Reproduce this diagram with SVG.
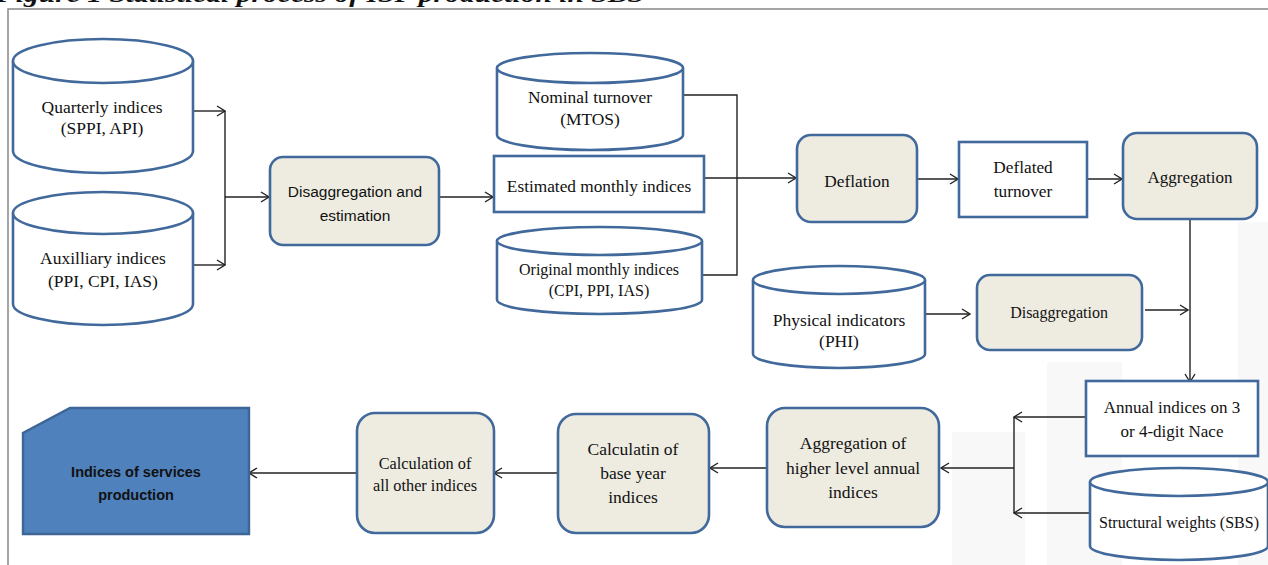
<svg xmlns="http://www.w3.org/2000/svg" width="1268" height="565" viewBox="0 0 1268 565">
<style>
.node{stroke:#41699b;stroke-width:2.6;}
.proc{fill:#eeece1;}
.data{fill:#ffffff;}
.serif{font-family:"Liberation Serif","Times New Roman",serif;fill:#111;text-anchor:middle;}
.sans{font-family:"Liberation Sans",Arial,sans-serif;fill:#111;text-anchor:middle;}
.conn{stroke:#222;stroke-width:1.4;fill:none;}
.wm{fill:#f8f8f8;}
</style>
<defs>
<marker id="arr" markerUnits="userSpaceOnUse" markerWidth="12" markerHeight="12" refX="9" refY="6" orient="auto">
<path d="M1,1 L9,6 L1,11" fill="none" stroke="#222" stroke-width="1.4"/>
</marker>
</defs>
<rect width="1268" height="565" fill="#ffffff"/>
<text x="-4" y="2" font-family="Liberation Serif,serif" font-style="italic" font-weight="bold" font-size="24" textLength="648" lengthAdjust="spacingAndGlyphs" fill="#111">Figure 1 Statistical process of ISP production in SBS</text>
<g id="watermark">
<rect class="wm" x="1238" y="222" width="30" height="343"/>
<rect class="wm" x="1047" y="362" width="75" height="203"/>
<rect class="wm" x="952" y="432" width="73" height="133"/>
</g>
<path d="M8,565 V9 H1268" fill="none" stroke="#888" stroke-width="1.5"/>

<g id="connectors">
<path class="conn" d="M193,111 H225" marker-end="url(#arr)"/>
<path class="conn" d="M193,265 H225" marker-end="url(#arr)"/>
<path class="conn" d="M225,111 V265"/>
<path class="conn" d="M225,197 H269" marker-end="url(#arr)"/>
<path class="conn" d="M439,197 H493" marker-end="url(#arr)"/>
<path class="conn" d="M683,95 H737 V275 H702"/>
<path class="conn" d="M704,178 H796" marker-end="url(#arr)"/>
<path class="conn" d="M917,179 H958" marker-end="url(#arr)"/>
<path class="conn" d="M1087,179 H1122" marker-end="url(#arr)"/>
<path class="conn" d="M1190,219 V382" marker-end="url(#arr)"/>
<path class="conn" d="M925,314 H970" marker-end="url(#arr)"/>
<path class="conn" d="M1145,310 H1188" marker-end="url(#arr)"/>
<path class="conn" d="M1086,417 H1014" marker-end="url(#arr)"/>
<path class="conn" d="M1090,513 H1014" marker-end="url(#arr)"/>
<path class="conn" d="M1014,417 V513"/>
<path class="conn" d="M1014,468 H941" marker-end="url(#arr)"/>
<path class="conn" d="M767,468 H710" marker-end="url(#arr)"/>
<path class="conn" d="M558,473 H494" marker-end="url(#arr)"/>
<path class="conn" d="M357,473 H249" marker-end="url(#arr)"/>
</g>

<g id="quarterly">
<path class="node data" d="M13,61 V151 A90,22 0 0 0 193,151 V61"/>
<ellipse class="node data" cx="103" cy="61" rx="90" ry="22"/>
<text class="serif" x="102" y="113" font-size="17.5">Quarterly indices</text>
<text class="serif" x="102" y="134" font-size="17.5">(SPPI, API)</text>
</g>
<g id="auxiliary">
<path class="node data" d="M13,213 V304 A90,21 0 0 0 193,304 V213"/>
<ellipse class="node data" cx="103" cy="213" rx="90" ry="21"/>
<text class="serif" x="103" y="264" font-size="17.5">Auxilliary indices</text>
<text class="serif" x="103" y="287" font-size="17.5">(PPI, CPI, IAS)</text>
</g>
<g id="disagg-est">
<rect class="node proc" x="270" y="157" width="169" height="88" rx="13"/>
<text class="sans" x="355" y="197" font-size="15.5">Disaggregation and</text>
<text class="sans" x="355" y="221" font-size="15.5">estimation</text>
</g>
<g id="nominal">
<path class="node data" d="M497,68 V135 A93,15 0 0 0 683,135 V68"/>
<ellipse class="node data" cx="590" cy="68" rx="93" ry="15"/>
<text class="serif" x="590" y="103" font-size="17.4">Nominal turnover</text>
<text class="serif" x="590" y="125" font-size="17.4">(MTOS)</text>
</g>
<g id="estimated">
<rect class="node data" x="494" y="156" width="210" height="56"/>
<text class="serif" x="599" y="192" font-size="17.3">Estimated monthly indices</text>
</g>
<g id="original">
<path class="node data" d="M497,241 V300 A102.5,14 0 0 0 702,300 V241"/>
<ellipse class="node data" cx="599.5" cy="241" rx="102.5" ry="14"/>
<text class="serif" x="599" y="275" font-size="16">Original monthly indices</text>
<text class="serif" x="599" y="296" font-size="16">(CPI, PPI, IAS)</text>
</g>
<g id="deflation">
<rect class="node proc" x="797" y="135" width="120" height="87" rx="14"/>
<text class="serif" x="857" y="187" font-size="17.3">Deflation</text>
</g>
<g id="deflated">
<rect class="node data" x="959" y="142" width="128" height="75"/>
<text class="serif" x="1023" y="173" font-size="17.3">Deflated</text>
<text class="serif" x="1023" y="197" font-size="17.3">turnover</text>
</g>
<g id="aggregation">
<rect class="node proc" x="1123" y="133" width="134" height="86" rx="14"/>
<text class="serif" x="1190" y="183" font-size="17">Aggregation</text>
</g>
<g id="physical">
<path class="node data" d="M753,280 V354 A86,14 0 0 0 925,354 V280"/>
<ellipse class="node data" cx="839" cy="280" rx="86" ry="14"/>
<text class="serif" x="839" y="326" font-size="17.5">Physical indicators</text>
<text class="serif" x="839" y="347" font-size="17.5">(PHI)</text>
</g>
<g id="disaggregation">
<rect class="node proc" x="977" y="275" width="165" height="75" rx="13"/>
<text class="serif" x="1059" y="318" font-size="16">Disaggregation</text>
</g>
<g id="annual">
<rect class="node data" x="1086" y="381" width="172" height="75"/>
<text class="serif" x="1172" y="413" font-size="17">Annual indices on 3</text>
<text class="serif" x="1172" y="437" font-size="17">or 4-digit Nace</text>
</g>
<g id="structural">
<path class="node data" d="M1090,482 V546 A89,14 0 0 0 1268,546 V482"/>
<ellipse class="node data" cx="1179" cy="482" rx="89" ry="14"/>
<text class="serif" x="1179" y="528" font-size="16">Structural weights (SBS)</text>
</g>
<g id="agg-higher">
<rect class="node proc" x="767" y="408" width="172" height="119" rx="18"/>
<text class="serif" x="853" y="449" font-size="17.5">Aggregation of</text>
<text class="serif" x="853" y="474" font-size="17.5">higher level annual</text>
<text class="serif" x="853" y="498" font-size="17.5">indices</text>
</g>
<g id="base-year">
<rect class="node proc" x="558" y="414" width="151" height="119" rx="18"/>
<text class="serif" x="633" y="455" font-size="17.5">Calculatin of</text>
<text class="serif" x="633" y="479" font-size="17.5">base year</text>
<text class="serif" x="633" y="503" font-size="17.5">indices</text>
</g>
<g id="all-other">
<rect class="node proc" x="357" y="413" width="137" height="120" rx="18"/>
<text class="serif" x="425" y="469" font-size="16.3">Calculation of</text>
<text class="serif" x="425" y="491" font-size="16.3">all other indices</text>
</g>
<g id="isp">
<polygon points="70,408 249,408 249,534 23,534 23,433" fill="#4f81bd" stroke="#3d6596" stroke-width="2.4"/>
<text class="sans" x="136" y="477" font-size="14.5" font-weight="bold">Indices of services</text>
<text class="sans" x="136" y="500" font-size="14.5" font-weight="bold">production</text>
</g>
</svg>
